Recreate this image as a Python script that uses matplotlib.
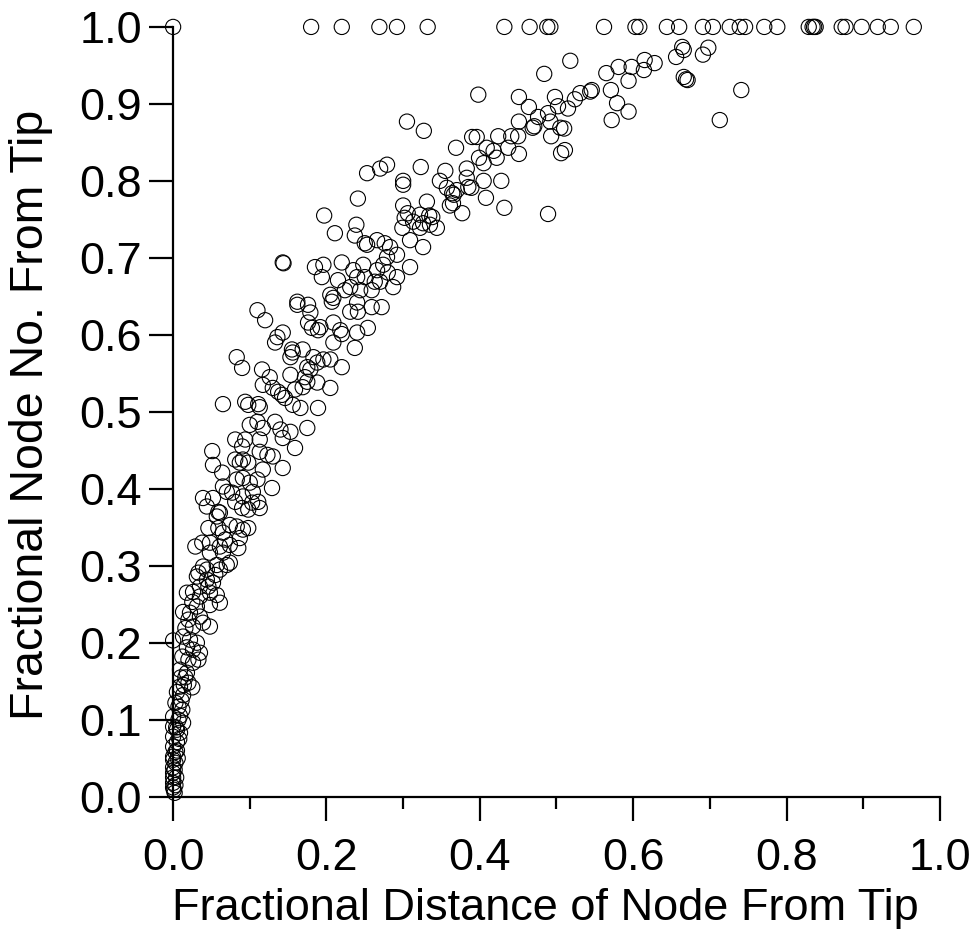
import numpy as np
import matplotlib
matplotlib.use("Agg")
import matplotlib.pyplot as plt

plt.rcParams['font.family'] = ['Liberation Sans', 'DejaVu Sans']

# nodes that sit at fractional node no. = 1.0
top_row_x = [0.0, 0.180, 0.220, 0.269, 0.292, 0.332, 0.432, 0.465, 0.488, 0.492,
             0.562, 0.603, 0.608, 0.644, 0.660, 0.691, 0.704, 0.726, 0.739, 0.746,
             0.771, 0.788, 0.829, 0.834, 0.836, 0.838, 0.872, 0.877, 0.898, 0.919,
             0.936, 0.966]

# upper part of the cloud
cloud_upper = [
    (0.664, 0.974), (0.666, 0.970), (0.698, 0.973), (0.691, 0.964), (0.656, 0.961),
    (0.518, 0.956), (0.615, 0.957), (0.628, 0.953), (0.614, 0.944), (0.598, 0.948),
    (0.581, 0.948), (0.565, 0.940), (0.484, 0.939), (0.594, 0.930), (0.666, 0.935),
    (0.669, 0.932), (0.671, 0.931), (0.741, 0.918), (0.571, 0.918), (0.546, 0.918),
    (0.544, 0.916), (0.531, 0.914), (0.398, 0.912), (0.451, 0.909), (0.498, 0.909),
    (0.524, 0.906), (0.579, 0.901), (0.594, 0.890), (0.572, 0.879), (0.713, 0.879),
    (0.502, 0.897), (0.515, 0.894), (0.464, 0.896), (0.489, 0.888), (0.476, 0.883),
    (0.451, 0.877), (0.471, 0.871), (0.469, 0.869), (0.492, 0.877), (0.505, 0.869),
    (0.510, 0.868), (0.493, 0.858), (0.305, 0.877), (0.327, 0.865), (0.369, 0.843),
    (0.390, 0.857), (0.396, 0.857), (0.424, 0.858), (0.441, 0.858), (0.450, 0.858),
    (0.409, 0.843), (0.418, 0.839), (0.437, 0.843), (0.451, 0.835), (0.399, 0.830),
    (0.405, 0.823), (0.422, 0.830), (0.506, 0.836), (0.511, 0.840), (0.323, 0.818),
    (0.300, 0.800), (0.300, 0.795), (0.355, 0.813), (0.383, 0.816), (0.383, 0.804),
    (0.405, 0.800), (0.428, 0.800), (0.389, 0.791), (0.357, 0.791), (0.364, 0.784),
    (0.366, 0.782), (0.348, 0.800), (0.331, 0.773), (0.408, 0.778), (0.432, 0.765),
    (0.489, 0.757), (0.361, 0.768), (0.377, 0.758), (0.300, 0.768), (0.306, 0.758),
    (0.322, 0.756), (0.334, 0.755), (0.313, 0.747), (0.322, 0.739), (0.344, 0.739),
    (0.302, 0.752),
]

cloud_middle = [
    (0.253, 0.810), (0.270, 0.816), (0.279, 0.821), (0.370, 0.788), (0.385, 0.792),
    (0.365, 0.771), (0.241, 0.777), (0.197, 0.755), (0.239, 0.743), (0.237, 0.729),
    (0.211, 0.732), (0.299, 0.739), (0.338, 0.753), (0.335, 0.743), (0.326, 0.745),
    (0.309, 0.723), (0.326, 0.714), (0.253, 0.717), (0.266, 0.723), (0.276, 0.719),
    (0.283, 0.714), (0.250, 0.719), (0.292, 0.704), (0.279, 0.701), (0.274, 0.691),
    (0.266, 0.684), (0.280, 0.681), (0.270, 0.669), (0.292, 0.675), (0.309, 0.688),
    (0.287, 0.662), (0.143, 0.694), (0.144, 0.693), (0.185, 0.688), (0.196, 0.691),
    (0.194, 0.675), (0.220, 0.694), (0.235, 0.684), (0.248, 0.691), (0.240, 0.675),
    (0.250, 0.675), (0.231, 0.662), (0.244, 0.658), (0.259, 0.658), (0.263, 0.669),
    (0.215, 0.671), (0.205, 0.652), (0.209, 0.648), (0.207, 0.643), (0.224, 0.658),
    (0.162, 0.643), (0.162, 0.639), (0.176, 0.639), (0.179, 0.629), (0.240, 0.642),
    (0.241, 0.630), (0.231, 0.630), (0.259, 0.636), (0.272, 0.636), (0.110, 0.632),
    (0.120, 0.619), (0.176, 0.616), (0.181, 0.609), (0.189, 0.606), (0.192, 0.610),
    (0.209, 0.616), (0.218, 0.606), (0.220, 0.601), (0.240, 0.603), (0.254, 0.609),
    (0.209, 0.590), (0.237, 0.583), (0.136, 0.597), (0.133, 0.590), (0.143, 0.603),
    (0.155, 0.581), (0.156, 0.577), (0.153, 0.571), (0.169, 0.581), (0.183, 0.571),
    (0.196, 0.568), (0.205, 0.568), (0.188, 0.564), (0.175, 0.558), (0.179, 0.555),
    (0.116, 0.555), (0.126, 0.545), (0.153, 0.548), (0.220, 0.558), (0.172, 0.545),
]

cloud_lower = [
    (0.083, 0.571), (0.090, 0.557), (0.117, 0.535), (0.130, 0.531), (0.137, 0.526),
    (0.142, 0.522), (0.146, 0.518), (0.169, 0.532), (0.188, 0.538), (0.205, 0.531),
    (0.159, 0.529), (0.156, 0.509), (0.166, 0.505), (0.189, 0.505), (0.175, 0.539),
    (0.065, 0.510), (0.094, 0.513), (0.098, 0.509), (0.111, 0.510), (0.113, 0.506),
    (0.100, 0.483), (0.110, 0.487), (0.117, 0.479), (0.133, 0.487), (0.140, 0.477),
    (0.153, 0.474), (0.143, 0.466), (0.175, 0.479), (0.159, 0.453), (0.113, 0.464),
    (0.094, 0.464), (0.051, 0.449), (0.081, 0.464), (0.090, 0.455), (0.081, 0.438),
    (0.087, 0.434), (0.091, 0.438), (0.098, 0.434), (0.052, 0.431), (0.064, 0.421),
    (0.113, 0.448), (0.123, 0.444), (0.130, 0.442), (0.143, 0.427), (0.117, 0.425),
    (0.129, 0.401), (0.065, 0.403), (0.070, 0.396), (0.077, 0.395), (0.083, 0.412),
    (0.091, 0.414), (0.100, 0.408), (0.110, 0.412), (0.104, 0.396), (0.091, 0.390),
    (0.081, 0.383), (0.111, 0.383), (0.113, 0.375), (0.103, 0.382), (0.098, 0.373),
    (0.090, 0.375), (0.039, 0.388), (0.052, 0.388), (0.059, 0.370), (0.061, 0.369),
    (0.057, 0.364), (0.044, 0.377), (0.046, 0.349), (0.059, 0.349), (0.065, 0.343),
    (0.074, 0.353), (0.083, 0.351), (0.091, 0.347), (0.098, 0.349), (0.068, 0.334),
    (0.087, 0.336), (0.029, 0.325), (0.038, 0.330), (0.048, 0.330), (0.061, 0.325),
    (0.074, 0.327), (0.085, 0.323), (0.048, 0.317), (0.065, 0.317), (0.039, 0.299),
    (0.044, 0.295), (0.061, 0.295), (0.074, 0.304), (0.033, 0.291), (0.055, 0.288),
]

# steep part near the tip
cloud_base = [
    (0.057, 0.301), (0.070, 0.301), (0.031, 0.286), (0.044, 0.282), (0.052, 0.278),
    (0.046, 0.273), (0.035, 0.273), (0.018, 0.265), (0.026, 0.266), (0.035, 0.260),
    (0.048, 0.265), (0.057, 0.262), (0.025, 0.253), (0.031, 0.247), (0.048, 0.249),
    (0.061, 0.252), (0.013, 0.240), (0.022, 0.239), (0.035, 0.234), (0.039, 0.226),
    (0.048, 0.221), (0.020, 0.230), (0.026, 0.221), (0.016, 0.219), (0.000, 0.203),
    (0.013, 0.208), (0.022, 0.204), (0.031, 0.200), (0.018, 0.194), (0.026, 0.191),
    (0.035, 0.187), (0.012, 0.182), (0.020, 0.178), (0.026, 0.174), (0.033, 0.178),
    (0.009, 0.165), (0.018, 0.161), (0.016, 0.155), (0.020, 0.148), (0.025, 0.142),
    (0.009, 0.143), (0.005, 0.136), (0.013, 0.132), (0.003, 0.122), (0.007, 0.117),
    (0.012, 0.113), (0.000, 0.104), (0.007, 0.100), (0.013, 0.096), (0.000, 0.091),
    (0.005, 0.087), (0.009, 0.083), (0.000, 0.078), (0.005, 0.071), (0.000, 0.065),
    (0.003, 0.058), (0.000, 0.052), (0.000, 0.048), (0.003, 0.044), (0.000, 0.038),
    (0.000, 0.031), (0.000, 0.025), (0.000, 0.018), (0.000, 0.012), (0.001, 0.009),
    (0.002, 0.005), (0.003, 0.015), (0.004, 0.025), (0.002, 0.035), (0.006, 0.050),
    (0.005, 0.060), (0.008, 0.075), (0.004, 0.090), (0.009, 0.105), (0.011, 0.125),
    (0.014, 0.145), (0.010, 0.155),
]

x_ticks = [0.0, 0.2, 0.4, 0.6, 0.8, 1.0]
x_minor = [0.1, 0.3, 0.5, 0.7, 0.9]
y_ticks = [0.0, 0.1, 0.2, 0.3, 0.4, 0.5, 0.6, 0.7, 0.8, 0.9, 1.0]

cloud = cloud_upper + cloud_middle + cloud_lower + cloud_base
cx = [p[0] for p in cloud] + top_row_x
cy = [p[1] for p in cloud] + [1.0] * len(top_row_x)

fig = plt.figure(figsize=(9.78, 9.48), dpi=100)
ax = fig.add_axes([0.177, 0.1596, 0.784, 0.812])

ax.scatter(cx, cy, s=120, facecolors='none', edgecolors='black',
           linewidths=0.8, clip_on=False, zorder=3)

ax.set_xlim(0, 1)
ax.set_ylim(0, 1)
for side in ['top', 'right']:
    ax.spines[side].set_visible(False)
for side in ['left', 'bottom']:
    ax.spines[side].set_linewidth(1.6)

ax.set_xticks(x_ticks)
ax.set_xticklabels([f"{v:.1f}" for v in x_ticks])
ax.set_xticks(x_minor, minor=True)
ax.set_yticks(y_ticks)
ax.set_yticklabels([f"{v:.1f}" for v in y_ticks])

ax.tick_params(axis='both', which='major', direction='out', length=17.5,
               width=1.6, labelsize=32.5, colors='black')
ax.tick_params(axis='x', which='major', pad=12)
ax.tick_params(axis='y', which='major', pad=5)
ax.tick_params(axis='x', which='minor', direction='out', length=8.5, width=1.6)

ax.set_xlabel('Fractional Distance of Node From Tip', fontsize=32.5)
ax.set_ylabel('Fractional Node No. From Tip', fontsize=33.5)
ax.xaxis.set_label_coords(0.485, -0.118)
ax.yaxis.set_label_coords(-0.157, 0.496)

fig.savefig('out.png', dpi=100)
